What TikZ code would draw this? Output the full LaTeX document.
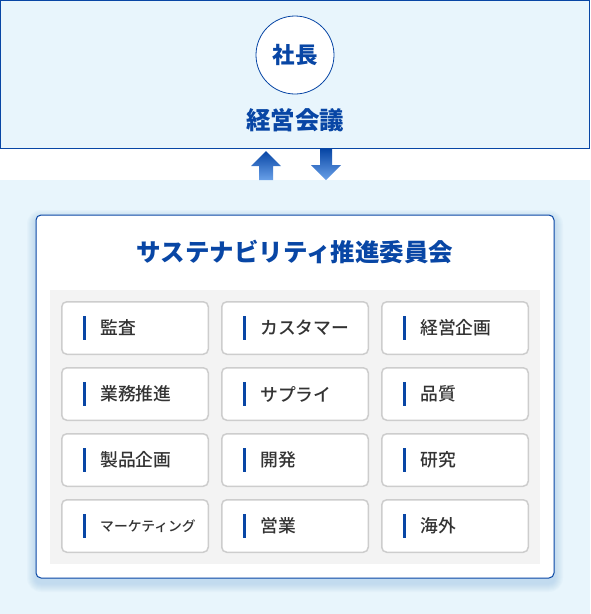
\documentclass[tikz,border=0pt]{standalone}
\usepackage{fontspec}
\setmainfont{Noto Sans CJK JP}
\newfontfamily\medfont{Noto Sans CJK JP Medium}
\definecolor{mainblue}{RGB}{8,70,165}
\definecolor{arrowlight}{RGB}{105,160,232}
\definecolor{lightbg}{RGB}{232,245,252}
\definecolor{shadowblue}{RGB}{140,185,225}
\definecolor{panelgrey}{RGB}{243,243,243}
\definecolor{cellborder}{RGB}{205,205,205}
\definecolor{textgrey}{RGB}{51,51,51}
\tikzstyle{ceo} = [circle, draw=mainblue, fill=white, line width=0.8pt, minimum size=78pt, inner sep=0pt, text=mainblue, font=\bfseries\fontsize{22.5}{25}\selectfont]
\tikzstyle{heading} = [text=mainblue, inner sep=0pt, font=\bfseries\fontsize{24.5}{28}\selectfont]
\tikzstyle{panelbox} = [draw=mainblue, fill=white, line width=1pt, rounded corners=5pt, minimum width=518pt, minimum height=363pt, inner sep=0pt]
\tikzstyle{greypanel} = [fill=panelgrey, minimum width=490pt, minimum height=274pt, inner sep=0pt]
\tikzstyle{itemtext} = [inner sep=0pt, draw=none, fill=none, text=textgrey, font=\medfont\fontsize{17.8}{20}\selectfont]
\tikzset{cell/.style={draw=cellborder, line width=1.5pt, fill=white, rounded corners=5pt,
  minimum width=146.5pt, minimum height=52.5pt, inner sep=0pt,
  path picture={\fill[mainblue, draw=none, sharp corners] ([xshift=21pt,yshift=12pt]path picture bounding box.west) rectangle ++(3,24);},
  label={[itemtext,anchor=west,xshift=39pt]west:#1}}}

\begin{document}
\begin{tikzpicture}[x=1pt,y=-1pt]
	\useasboundingbox (0,0) rectangle (590,614);
	\fill[lightbg] (0,180) rectangle (590,614);
	\draw[mainblue, fill=lightbg, line width=1pt] (0.5,0.5) rectangle (589.5,148.5);

	\node (ceo) at (295,55) [ceo] {社長};
	\node (mtg) at (295,120) [heading] {経営会議};

	\shade[top color=mainblue, bottom color=arrowlight] (266,151) -- (281,166) -- (273,166) -- (273,180) -- (259,180) -- (259,166) -- (251,166) -- cycle;
	\shade[top color=mainblue, bottom color=arrowlight] (320,149) -- (332,149) -- (332,165) -- (341,165) -- (326,180) -- (311,165) -- (320,165) -- cycle;

	\foreach \i in {1,...,9}
	  \fill[shadowblue, opacity=0.05, rounded corners=5pt+\i pt] (36-\i,219-\i) rectangle (554+\i,583+\i);

	\node (cmt) at (295,396.5) [panelbox] {};
	\node (title) at (295,252) [heading] {サステナビリティ推進委員会};
	\node (grid) at (295,427) [greypanel] {};

	\node (audit) at (135,328) [cell=監査] {};
	\node (cust) at (295,328) [cell=カスタマー] {};
	\node (plan) at (455,328) [cell=経営企画] {};
	\node (bizp) at (135,394) [cell=業務推進] {};
	\node (supp) at (295,394) [cell=サプライ] {};
	\node (qual) at (455,394) [cell=品質] {};
	\node (prod) at (135,460) [cell=製品企画] {};
	\node (dev) at (295,460) [cell=開発] {};
	\node (rsch) at (455,460) [cell=研究] {};
	\node (mktg) at (135,526) [cell={{\fontsize{13.8}{16}\selectfont マーケティング}}] {};
	\node (sales) at (295,526) [cell=営業] {};
	\node (intl) at (455,526) [cell=海外] {};
\end{tikzpicture}
\end{document}
